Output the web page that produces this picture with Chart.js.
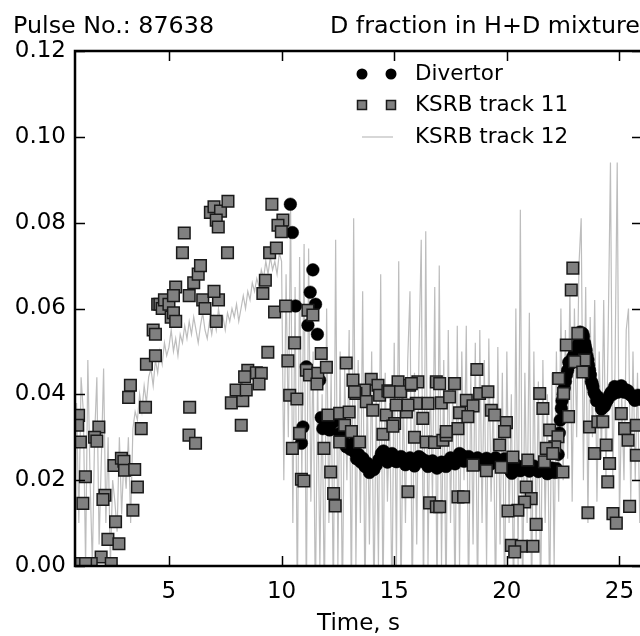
<!DOCTYPE html>
<html>
<head>
<meta charset="utf-8">
<script src="https://cdn.jsdelivr.net/npm/chart.js@4.4.1/dist/chart.umd.min.js"></script>
<style>
  html, body { margin: 0; padding: 0; background: #fff; overflow: hidden; width: 640px; height: 636px; }
  #wrap { position: relative; width: 660px; height: 636px; }
</style>
</head>
<body>
<div id="wrap"><canvas id="chart" width="660" height="636"></canvas></div>
<script>
const pulseTitle = "Pulse No.: 87638";
const plotTitle = "D fraction in H+D mixture";
const xLabel = "Time, s";
const xTicks = [5, 10, 15, 20, 25];
const yTicks = [0, 0.02, 0.04, 0.06, 0.08, 0.10, 0.12];
const seriesNames = ["Divertor", "KSRB track 11", "KSRB track 12"];

// Divertor (black circles)
const divertorT = [10.39,10.48,10.62,10.88,10.95,11.10,11.17,11.27,11.39,11.51,
  11.59,11.69,11.76,11.83,11.95,12.13,12.28,12.43,12.58,12.72,
  12.87,13.05,13.24,13.42,13.61,13.8,13.98,14.2,14.43,14.6,
  14.8,15.0,15.2,15.4,15.6,15.8,16.0,16.2,16.4,16.6,
  16.8,17.0,17.2,17.4,17.6,17.8,18.0,18.2,18.4,18.6,
  18.8,19.0,19.2,19.4,19.6,19.8,20.0,20.15,20.3,20.5,
  20.7,20.9,21.1,21.3,21.5,21.7,21.9,22.05,22.2,22.28,
  22.33,22.37,22.42,22.5,22.6,22.7,22.8,22.93,23.08,23.2,
  23.3,23.37,23.45,23.52,23.6,23.67,23.75,23.82,23.92,24.04,
  24.15,24.26,24.4,24.56,24.7,24.85,25.0,25.15,25.3,25.45,
  25.6,25.75,25.9,
  13.15,13.33,13.52,13.7,13.9,14.1,14.32,14.52,14.7,14.9,
  15.1,15.3,15.5,15.7,15.9,16.1,16.3,16.5,16.7,16.9,
  17.1,17.3,17.5,17.7,17.9,18.1,18.3,18.5,18.7,18.9,
  19.1,19.3,19.5,19.7,19.9,20.07,20.22,20.4,20.6,20.8,
  21.0,21.2,21.4,21.6,21.8,22.0,22.12,
  22.45,22.55,22.65,22.75,22.87,23.0,23.14,23.25,23.4,23.48,
  23.56,23.63,23.71,23.79,23.87,23.98,24.1,24.2,24.33,24.48,
  24.63,24.78,24.92,25.08,25.22,25.38,25.52,25.68,25.82,25.96];
const divertorD = [0.0843,0.0777,0.0606,0.0286,0.0324,0.0464,0.0561,0.0638,0.069,0.061,
  0.054,0.0433,0.0346,0.032,0.033,0.0317,0.0335,0.034,0.0309,0.030,
  0.0278,0.0272,0.0266,0.026,0.0251,0.024,0.0227,0.0235,0.0262,0.0255,
  0.0251,0.025,0.0248,0.0245,0.0243,0.024,0.0245,0.0251,0.0245,0.024,
  0.0237,0.0233,0.024,0.0243,0.0247,0.0248,0.0258,0.0252,0.0247,0.0245,
  0.0244,0.0243,0.0245,0.0246,0.0247,0.0244,0.0235,0.0223,0.0228,0.0231,
  0.0229,0.0227,0.0228,0.0227,0.0226,0.0222,0.0219,0.0222,0.0227,0.026,
  0.031,0.034,0.0367,0.040,0.043,0.0456,0.047,0.0487,0.0503,0.052,
  0.053,0.0542,0.052,0.0503,0.048,0.0456,0.043,0.0417,0.040,0.0394,
  0.038,0.0371,0.038,0.0398,0.040,0.041,0.041,0.0414,0.041,0.040,
  0.0394,0.039,0.0392,
  0.0285,0.025,0.0242,0.0232,0.0218,0.0225,0.0248,0.0268,0.0242,0.0262,
  0.0243,0.0255,0.0236,0.0252,0.0233,0.0255,0.0243,0.0232,0.0245,0.0228,
  0.0242,0.0232,0.0252,0.0238,0.0262,0.0244,0.0255,0.0238,0.0252,0.0236,
  0.0251,0.0238,0.0252,0.0238,0.025,0.0228,0.0216,0.0236,0.0222,0.0234,
  0.0221,0.0233,0.022,0.0231,0.0215,0.0228,0.0218,
  0.0385,0.0415,0.0445,0.0475,0.0478,0.0495,0.0512,0.0545,0.0535,0.0512,
  0.049,0.0468,0.0445,0.0425,0.0405,0.0385,0.0388,0.0366,0.0372,0.0388,
  0.0405,0.0418,0.0405,0.042,0.0405,0.0408,0.0398,0.0386,0.0398,0.0388];

// KSRB track 11 (grey squares)
const track11T = [0.99,0.95,1.07,1.29,1.18,1.89,1.70,1.80,2.16,2.07,
  2.56,2.89,3.00,3.03,3.48,3.60,3.40,2.63,2.29,2.78,
  1.99,1.55,2.44,1.11,1.30,3.29,3.21,3.96,3.77,4.00,
  4.30,4.40,4.40,4.50,4.60,4.70,4.80,5.00,5.10,5.20,
  5.30,5.20,5.30,5.60,5.68,5.90,6.10,6.30,6.40,6.50,
  6.60,6.84,7.00,7.29,7.10,7.19,7.62,7.10,7.20,7.00,
  7.60,5.92,5.89,6.18,7.77,8.28,7.98,8.21,8.50,8.88,
  9.10,8.36,9.00,8.43,9.57,10.06,9.84,9.99,9.47,9.77,
  9.28,9.17,9.69,10.18,11.17,11.39,10.58,9.39,10.28,11.76,
  11.10,11.24,11.61,11.99,11.57,12.87,10.36,10.68,13.17,13.98,
  14.28,13.68,13.30,14.35,14.72,15.17,15.68,16.05,16.87,13.76,
  14.05,14.65,15.02,15.54,15.98,16.27,16.50,12.06,12.58,13.00,
  12.80,10.80,10.48,10.88,10.99,12.18,12.31,12.38,11.88,13.10,
  12.58,13.46,14.50,14.94,15.09,15.61,15.90,16.42,16.79,17.16,
  17.31,15.61,16.57,16.87,17.09,17.46,13.24,14.79,15.28,15.76,
  17.02,17.68,17.83,17.83,22.93,22.86,23.15,22.64,23.45,23.01,
  23.37,22.30,22.52,22.74,18.67,17.90,18.20,18.50,18.27,18.79,
  19.16,19.31,19.46,19.98,19.90,19.68,17.31,20.27,20.93,21.67,
  18.50,19.09,19.75,21.46,21.60,21.90,22.27,22.13,21.75,22.04,
  22.49,18.08,17.02,20.86,21.08,20.79,20.49,20.05,21.30,20.20,
  20.64,21.16,20.35,23.89,24.41,24.56,24.48,23.60,24.71,24.86,
  25.45,23.67,24.04,24.26,25.08,25.23,25.38,25.75,25.75];
const track11D = [0.0351,0.0328,0.0289,0.0208,0.0146,0.0324,0.0300,0.0291,0.0165,0.0155,
  0.0234,0.0251,0.0244,0.0223,0.0225,0.0184,0.0130,0.0103,0.0062,0.0052,
  0.0021,0.0006,0.0006,0.0006,0.0006,0.0421,0.0393,0.0370,0.0320,0.0470,
  0.0550,0.0540,0.0490,0.0610,0.0610,0.0600,0.0620,0.0610,0.0580,0.0590,
  0.0650,0.0630,0.0570,0.0730,0.0776,0.0630,0.0660,0.0680,0.0700,0.0620,
  0.0600,0.0824,0.0837,0.0827,0.0806,0.0790,0.0850,0.0570,0.0620,0.0640,
  0.0730,0.0370,0.0305,0.0286,0.0380,0.0385,0.0410,0.0328,0.0456,0.0450,
  0.0449,0.0441,0.0424,0.0410,0.0843,0.0806,0.0794,0.0779,0.0730,0.0741,
  0.0666,0.0635,0.0592,0.0606,0.0596,0.0585,0.0520,0.0498,0.0478,0.0495,
  0.0456,0.0445,0.0449,0.0463,0.0424,0.0473,0.0398,0.0389,0.0433,0.0435,
  0.0421,0.0410,0.0402,0.0398,0.0408,0.0429,0.0421,0.0429,0.0429,0.0383,
  0.0363,0.0352,0.0332,0.0359,0.0379,0.0344,0.0379,0.0352,0.0356,0.0359,
  0.0328,0.0309,0.0274,0.0202,0.0198,0.0219,0.0169,0.0140,0.0274,0.0313,
  0.0289,0.0289,0.0307,0.0326,0.0375,0.0375,0.0300,0.0289,0.0288,0.0293,
  0.0305,0.0173,0.0147,0.0138,0.0380,0.0394,0.0406,0.0406,0.0406,0.0425,
  0.0425,0.0425,0.0320,0.0161,0.0694,0.0643,0.0542,0.0515,0.0480,0.0476,
  0.0452,0.0437,0.0402,0.0348,0.0458,0.0357,0.0386,0.0373,0.0348,0.0402,
  0.0406,0.0363,0.0352,0.0334,0.0313,0.0282,0.0313,0.0254,0.0247,0.0243,
  0.0235,0.0222,0.0230,0.0402,0.0367,0.0317,0.0301,0.0278,0.0274,0.0262,
  0.0219,0.0161,0.0138,0.0184,0.0157,0.0149,0.0130,0.0128,0.0097,0.0048,
  0.0046,0.0046,0.0033,0.0262,0.0282,0.0239,0.0196,0.0124,0.0122,0.0100,
  0.0139,0.0324,0.0336,0.0336,0.0355,0.0320,0.0293,0.0328,0.0258];

// KSRB track 12 (thin grey line), sampled every 0.1 s from 0.8 s
const track12Start = 0.8;
const track12Step = 0.1;
const track12D = [
  0.030,0.038,0.010,0.044,0.036,0.000,0.048,0.020,0.000,0.030,
  0.044,0.005,0.025,0.046,0.010,0.030,0.000,0.020,0.015,0.008,
  0.030,0.012,0.025,0.018,0.030,0.010,0.032,0.036,
  0.034,0.040,0.036,0.042,0.038,0.044,0.046,0.042,0.048,0.045,
  0.050,0.047,0.052,0.049,0.051,0.055,0.050,0.053,0.049,0.054,
  0.052,0.056,0.053,0.057,0.054,0.058,0.055,0.052,0.056,0.059,
  0.055,0.053,0.057,0.054,0.058,0.055,0.060,0.056,0.058,0.055,
  0.059,0.057,0.060,0.058,0.061,0.057,0.060,0.063,0.060,0.064,
  0.062,0.066,0.064,0.067,0.065,0.069,0.067,0.071,0.068,0.072,
  0.069,0.071,0.068,0.073,
  0.071,0.020,0.068,0.030,0.084,0.010,0.065,-0.010,0.072,0.020,
  0.075,-0.010,0.074,0.015,0.050,-0.010,0.045,0.000,0.040,-0.010,
  0.060,0.010,0.045,-0.010,0.076,0.000,0.050,-0.010,0.046,0.020,
  0.055,-0.010,0.081,0.000,0.048,0.010,0.064,-0.010,0.042,0.005,
  0.050,-0.010,0.040,0.000,0.068,-0.010,0.045,0.015,0.038,-0.010,
  0.052,0.000,0.071,-0.010,0.042,0.010,0.048,0.064,-0.010,0.045,
  0.005,0.050,0.076,-0.010,0.078,0.000,0.044,0.015,0.065,-0.010,
  0.070,0.000,0.048,-0.010,0.055,0.010,0.042,-0.010,0.056,0.000,
  0.050,0.020,0.056,-0.010,0.045,0.005,0.052,-0.010,0.055,0.010,
  0.048,0.000,0.053,0.015,0.040,-0.010,0.051,0.005,0.045,-0.010,
  0.050,0.010,0.040,-0.010,0.060,0.000,0.083,-0.010,0.045,0.010,
  0.059,-0.010,0.050,0.005,0.043,-0.010,0.048,0.010,0.040,-0.010,
  0.045,0.000,0.050,0.015,0.060,0.020,0.055,0.025,0.065,0.015,
  0.060,0.030,0.070,0.081,0.020,0.065,0.010,0.058,0.030,0.062,
  0.015,0.050,0.025,0.062,0.020,0.055,0.094,0.020,0.045,0.094,
  0.010,0.040,0.020,0.055,0.060,0.015,0.050,0.020,0.045,0.010,
  0.040];

const divertorPts = divertorT.map((t, i) => ({ x: t, y: divertorD[i] }));
const track11Pts = track11T.map((t, i) => ({ x: t, y: track11D[i] }));
const track12Pts = track12D.map((v, i) => ({ x: track12Start + i * track12Step, y: v }));

const FONT = '"DejaVu Sans", sans-serif';

const framePlugin = {
  id: 'frame',
  afterDatasetsDraw(chart) {
    const { ctx, chartArea: a, scales: { x, y } } = chart;
    ctx.save();
    ctx.strokeStyle = '#000';
    ctx.lineWidth = 1.5;
    ctx.beginPath();
    xTicks.forEach(v => {
      const px = Math.round(x.getPixelForValue(v)) + 0.5;
      ctx.moveTo(px, a.bottom); ctx.lineTo(px, a.bottom - 10);
      ctx.moveTo(px, a.top); ctx.lineTo(px, a.top + 10);
    });
    yTicks.forEach(v => {
      const py = Math.round(y.getPixelForValue(v)) + 0.5;
      ctx.moveTo(a.left, py); ctx.lineTo(a.left + 10, py);
      ctx.moveTo(a.right, py); ctx.lineTo(a.right - 10, py);
    });
    ctx.stroke();
    ctx.lineWidth = 2.5;
    ctx.strokeRect(a.left, a.top, a.right - a.left, a.bottom - a.top);

    // titles
    ctx.fillStyle = '#000';
    ctx.font = '23.8px ' + FONT;
    ctx.textBaseline = 'middle';
    ctx.textAlign = 'left';
    ctx.fillText(pulseTitle, 13, 27);
    ctx.textAlign = 'right';
    ctx.fillText(plotTitle, a.right - 2, 27);

    // legend with two sample markers per entry
    const ds = chart.data.datasets;
    const rows = [74, 105, 137];
    ctx.font = '21.5px ' + FONT;
    ctx.textAlign = 'left';
    rows.forEach((ry, i) => {
      const d = ds[i];
      ctx.fillStyle = '#000';
      ctx.fillText(d.label, 415, ry);
      if (i === 0) {
        [362, 391].forEach(mx => {
          ctx.beginPath();
          ctx.arc(mx, ry, 5.5, 0, Math.PI * 2);
          ctx.fillStyle = d.backgroundColor;
          ctx.fill();
        });
      } else if (i === 1) {
        [362, 391].forEach(mx => {
          ctx.fillStyle = d.backgroundColor;
          ctx.strokeStyle = d.borderColor;
          ctx.lineWidth = 1.5;
          ctx.fillRect(mx - 4.5, ry - 4.5, 9, 9);
          ctx.strokeRect(mx - 4.5, ry - 4.5, 9, 9);
        });
      } else {
        ctx.strokeStyle = d.borderColor;
        ctx.lineWidth = d.borderWidth;
        ctx.beginPath();
        ctx.moveTo(362, ry); ctx.lineTo(393, ry);
        ctx.stroke();
      }
    });
    ctx.restore();
  }
};

new Chart(document.getElementById('chart'), {
  type: 'scatter',
  data: {
    datasets: [
      {
        label: seriesNames[0],
        data: divertorPts,
        pointStyle: 'circle',
        pointRadius: 6.3,
        backgroundColor: '#000',
        borderColor: '#000',
        borderWidth: 0.5,
        order: 2,
        clip: 0
      },
      {
        label: seriesNames[1],
        data: track11Pts,
        pointStyle: 'rect',
        pointRadius: 8.2,
        backgroundColor: '#808080',
        borderColor: '#1a1a1a',
        borderWidth: 1.5,
        order: 1,
        clip: 0
      },
      {
        label: seriesNames[2],
        data: track12Pts,
        type: 'line',
        showLine: true,
        pointRadius: 0,
        borderColor: '#bdbdbd',
        borderWidth: 1.2,
        backgroundColor: '#bdbdbd',
        tension: 0,
        fill: false,
        order: 3,
        clip: 0
      }
    ]
  },
  options: {
    responsive: false,
    animation: false,
    events: [],
    layout: { padding: { left: 0, right: 18, top: 51, bottom: 0 } },
    plugins: { legend: { display: false }, tooltip: { enabled: false }, title: { display: false } },
    scales: {
      x: {
        type: 'linear',
        min: 0.83,
        max: 26,
        grid: { display: false, drawTicks: false },
        border: { display: false },
        afterBuildTicks: s => { s.ticks = xTicks.map(v => ({ value: v })); },
        afterFit: s => { s.height = 70; },
        ticks: { color: '#000', font: { family: FONT, size: 23 }, padding: 12, maxRotation: 0 },
        title: { display: true, text: xLabel, color: '#000', font: { family: FONT, size: 23, lineHeight: 1 }, padding: { top: 0, bottom: 0 } }
      },
      y: {
        min: 0,
        max: 0.12,
        grid: { display: false, drawTicks: false },
        border: { display: false },
        afterBuildTicks: s => { s.ticks = yTicks.map(v => ({ value: v })); },
        afterFit: s => { s.width = 75; },
        ticks: { color: '#000', font: { family: FONT, size: 23 }, padding: 9, callback: v => v.toFixed(2) }
      }
    }
  },
  plugins: [framePlugin]
});
</script>
</body>
</html>
